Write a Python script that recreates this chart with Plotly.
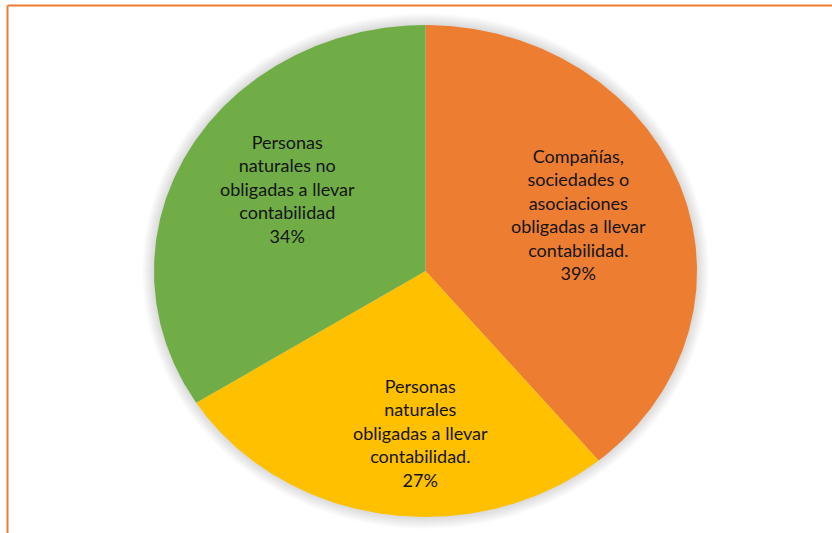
import numpy as np
import plotly.graph_objects as go

# Taxpayer categories and their shares (%)
categories = [
    "Compañías,<br>sociedades o<br>asociaciones<br>obligadas a llevar<br>contabilidad.",
    "Personas<br>naturales<br>obligadas a llevar<br>contabilidad.",
    "Personas<br>naturales no<br>obligadas a llevar<br>contabilidad",
]
shares = [39, 27, 34]
colors = ["#ED7D31", "#FFC000", "#70AD47"]

W, H = 832, 533
# pie centre and radii in pixels (slightly wider than tall)
cx, cy, rx, ry = 425.5, 271.0, 271.5, 246.0

fig = go.Figure()

# soft glow around the pie
for d in range(12, 0, -1):
    t = np.linspace(0, 2 * np.pi, 240)
    sx = (rx + d) / rx
    sy = (ry + d) / ry
    fig.add_trace(go.Scatter(
        x=sx * np.sin(t), y=sy * np.cos(t), mode="lines",
        fill="toself", fillcolor="rgba(0,0,0,0.012)",
        line=dict(width=0), hoverinfo="skip", showlegend=False,
    ))

# wedges, clockwise from 12 o'clock
total = sum(shares)
start = 0.0
label_shift = [(-10, 3), (22, -6), (14, 6)]
for cat, val, col, (xs, ys) in zip(categories, shares, colors, label_shift):
    sweep = 2 * np.pi * val / total
    t = np.linspace(start, start + sweep, 200)
    xw = np.concatenate([[0], np.sin(t), [0]])
    yw = np.concatenate([[0], np.cos(t), [0]])
    fig.add_trace(go.Scatter(
        x=xw, y=yw, mode="lines", fill="toself", fillcolor=col,
        line=dict(width=0, color=col), hoverinfo="skip", showlegend=False,
    ))
    mid = start + sweep / 2
    fig.add_annotation(
        x=0.64 * np.sin(mid), y=0.64 * np.cos(mid),
        text=f"{cat}<br>{val}%", showarrow=False,
        xshift=xs, yshift=ys,
        font=dict(family="Lato", size=18, color="#141414"),
        align="center",
    )
    start += sweep

fig.update_layout(
    width=W, height=H,
    margin=dict(l=0, r=0, t=0, b=0),
    paper_bgcolor="white", plot_bgcolor="white",
    xaxis=dict(range=[-cx / rx, (W - cx) / rx], visible=False, fixedrange=True),
    yaxis=dict(range=[-(H - cy) / ry, cy / ry], visible=False, fixedrange=True),
    shapes=[
        dict(type="line", xref="paper", yref="paper",
             x0=7.5 / W, x1=1.0, y0=1 - 5.5 / H, y1=1 - 5.5 / H,
             line=dict(color="#ED7D31", width=2)),
        dict(type="line", xref="paper", yref="paper",
             x0=7.5 / W, x1=7.5 / W, y0=0, y1=1 - 5.5 / H,
             line=dict(color="#ED7D31", width=2)),
    ],
)

fig.write_html("out.html")
